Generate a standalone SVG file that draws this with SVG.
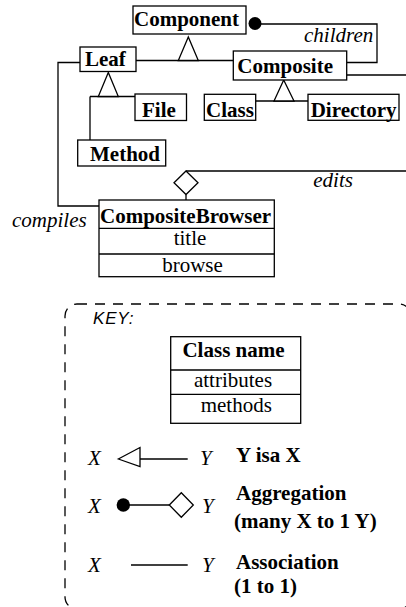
<svg xmlns="http://www.w3.org/2000/svg" width="406" height="607" viewBox="0 0 406 607">
<style>
.box{fill:#fff;stroke:#000;stroke-width:1.3}
.ln{fill:none;stroke:#000;stroke-width:1.3}
.tri{fill:#fff;stroke:#000;stroke-width:1.3}
.b{font-family:"Liberation Serif",serif;font-weight:bold;font-size:21px;fill:#000}
.r{font-family:"Liberation Serif",serif;font-size:21px;fill:#000}
.i{font-family:"Liberation Serif",serif;font-style:italic;font-size:21px;fill:#000}
.key{font-family:"Liberation Sans",sans-serif;font-style:italic;font-size:17px;letter-spacing:0.8px;fill:#000}
</style>
<rect width="406" height="607" fill="#fff"/>
<g id="connectors">
  <path class="ln" d="M261 24 H377 V62.5 H346.7"/>
  <circle cx="255" cy="23.5" r="6.5" fill="#000"/>
  <path class="ln" d="M136 60.5 H233.3"/>
  <polygon class="tri" points="188.3,37 178.3,60.5 198.3,60.5"/>
  <path class="ln" d="M346.7 75 H406"/>
  <path class="ln" d="M90 96.5 H135 M90 96.5 V140"/>
  <polygon class="tri" points="108.3,72.5 98.3,96.5 118.3,96.5"/>
  <path class="ln" d="M255.7 101 H308"/>
  <polygon class="tri" points="283.7,80 274,101 294,101"/>
  <path class="ln" d="M80 62.5 H58 V206 H99"/>
  <path class="ln" d="M186 171 H406 M186 194.5 V200"/>
  <polygon class="tri" points="186,171 198,182.7 186,194.5 174,182.7"/>
</g>
<g id="Component"><rect class="box" x="133" y="6" width="113" height="28"/><text class="b" x="134" y="26">Component</text></g>
<g id="Leaf"><rect class="box" x="80" y="47" width="56" height="24.5"/><text class="b" x="85" y="66">Leaf</text></g>
<g id="Composite"><rect class="box" x="233.3" y="51" width="113.4" height="29"/><text class="b" x="237.3" y="72.5">Composite</text></g>
<g id="File"><rect class="box" x="135" y="94" width="51.5" height="26.5"/><text class="b" x="142" y="117">File</text></g>
<g id="Method"><rect class="box" x="77.7" y="140" width="88" height="26"/><text class="b" x="90" y="160.5">Method</text></g>
<g id="Class"><rect class="box" x="204.3" y="94.3" width="51.4" height="26"/><text class="b" x="206" y="116.5">Class</text></g>
<g id="Directory"><rect class="box" x="308" y="94.3" width="91" height="26"/><text class="b" x="310.7" y="116.5">Directory</text></g>
<g id="CompositeBrowser">
  <rect class="box" x="99" y="200" width="175.3" height="76.7"/>
  <path class="ln" d="M99 228.3 H274.3 M99 254 H274.3"/>
  <text class="b" x="100" y="223">CompositeBrowser</text>
  <text class="r" x="190" y="245" text-anchor="middle">title</text>
  <text class="r" x="192.5" y="271.5" text-anchor="middle">browse</text>
</g>
<g id="labels">
  <text class="i" x="304" y="41.5">children</text>
  <text class="i" x="313.3" y="186.7">edits</text>
  <text class="i" x="12" y="226.7">compiles</text>
</g>
<g id="key">
  <rect x="65" y="304" width="346" height="305" rx="12" ry="12" fill="none" stroke="#000" stroke-width="1.3" stroke-dasharray="10 8"/>
  <text class="key" x="93" y="324.3">KEY:</text>
  <g id="KeyClass">
    <rect class="box" x="170.7" y="336.7" width="130" height="86.6"/>
    <path class="ln" d="M170.7 370 H300.7 M170.7 394.3 H300.7"/>
    <text class="b" x="233.5" y="356.7" text-anchor="middle">Class name</text>
    <text class="r" x="233" y="386.5" text-anchor="middle">attributes</text>
    <text class="r" x="236.3" y="411.5" text-anchor="middle">methods</text>
  </g>
  <g id="KeyIsa">
    <text class="i" x="88" y="465">X</text>
    <path class="ln" d="M140 459 H187.7"/>
    <polygon class="tri" points="118.3,459 140,447.5 140,466.7"/>
    <text class="i" x="200" y="465">Y</text>
    <text class="b" x="236" y="461.7">Y isa X</text>
  </g>
  <g id="KeyAggregation">
    <text class="i" x="88" y="512.7">X</text>
    <circle cx="123.3" cy="505" r="6.7" fill="#000"/>
    <path class="ln" d="M123.3 505 H169.3"/>
    <polygon class="tri" points="169.3,505 181.3,492.7 193.3,505 181.3,517.3"/>
    <text class="i" x="202" y="512.7">Y</text>
    <text class="b" x="236" y="500">Aggregation</text>
    <text class="b" x="234" y="528">(many X to 1 Y)</text>
  </g>
  <g id="KeyAssociation">
    <text class="i" x="88" y="572">X</text>
    <path class="ln" d="M131 565 H187.7"/>
    <text class="i" x="202" y="572">Y</text>
    <text class="b" x="236" y="568.5">Association</text>
    <text class="b" x="234" y="593">(1 to 1)</text>
  </g>
</g>
</svg>
